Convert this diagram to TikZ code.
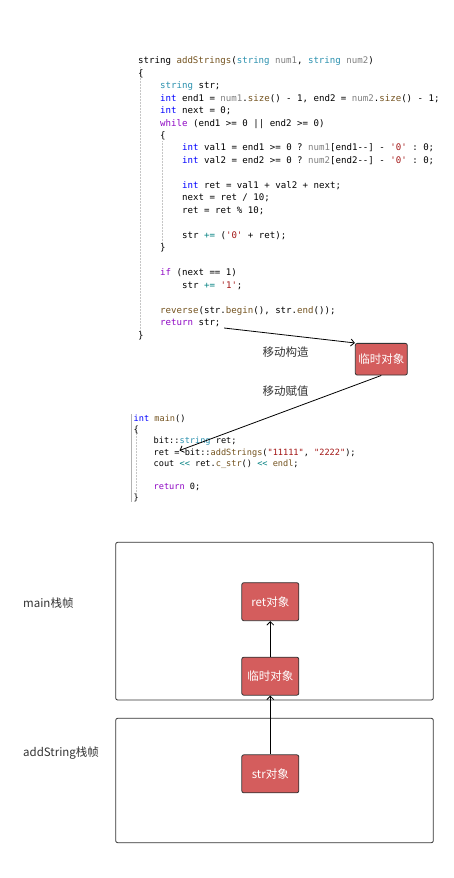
\documentclass[tikz,border=0pt]{standalone}
\usepackage{fontspec}
\setmonofont{DejaVu Sans Mono}
\newfontfamily\cjk{Noto Sans CJK SC}
\usetikzlibrary{arrows.meta}
\definecolor{ckw}{HTML}{0000FF}
\definecolor{cctl}{HTML}{8F08C4}
\definecolor{cty}{HTML}{2B91AF}
\definecolor{cfn}{HTML}{74531F}
\definecolor{cpa}{HTML}{808080}
\definecolor{cstr}{HTML}{A31515}
\definecolor{cop}{HTML}{008080}
\definecolor{boxred}{HTML}{D45D5D}
\definecolor{edge}{HTML}{333333}
\newcommand\Kw[1]{\textcolor{ckw}{#1}}
\newcommand\Ct[1]{\textcolor{cctl}{#1}}
\newcommand\Ty[1]{\textcolor{cty}{#1}}
\newcommand\Fn[1]{\textcolor{cfn}{#1}}
\newcommand\Pa[1]{\textcolor{cpa}{#1}}
\newcommand\St[1]{\textcolor{cstr}{#1}}
\newcommand\Op[1]{\textcolor{cop}{#1}}
\tikzset{
  codea/.style={anchor=base west, inner sep=0pt, font=\ttfamily\fontsize{9.1}{11}\selectfont},
  codeb/.style={anchor=base west, inner sep=0pt, font=\ttfamily\fontsize{8.6}{10}\selectfont},
  redbox/.style={draw=edge, fill=boxred, rounded corners=2pt, line width=0.8pt,
    text=white, font=\cjk\fontsize{11.5}{13}\selectfont, inner sep=0pt,
    minimum width=57pt, minimum height=38pt},
  frame/.style={draw=edge, rounded corners=2pt, line width=0.8pt},
  lbl/.style={text=edge, font=\cjk\fontsize{11.5}{13}\selectfont, inner sep=0pt},
  arr/.style={line width=0.8pt, -{Straight Barb[length=3.5pt,width=7pt]}},
  guide/.style={densely dotted, draw=gray!45, line width=0.5pt}
}
\begin{document}
\begin{tikzpicture}[x=1pt,y=-1pt]
\useasboundingbox[fill=white] (0,0) rectangle (453,878);

% indent guides
\draw[guide] (140,67) -- (140,334);
\draw[guide] (162,141) -- (162,246);
\draw[gray!60, line width=0.6pt] (131.7,414) -- (131.7,502);
\draw[guide] (136.5,428) -- (136.5,494);

% code block 1
\node[codea] (c1) at (138,63.7) {string \Fn{addStrings}(\Ty{string} \Pa{num1}, \Ty{string} \Pa{num2})};
\node[codea] (c2) at (138,76.17) {\{};
\node[codea] (c3) at (160,88.64) {\Ty{string} str;};
\node[codea] (c4) at (160,101.11) {\Kw{int} end1 = \Pa{num1}.\Fn{size}() - 1, end2 = \Pa{num2}.\Fn{size}() - 1;};
\node[codea] (c5) at (160,113.58) {\Kw{int} next = 0;};
\node[codea] (c6) at (160,126.05) {\Ct{while} (end1 >= 0 || end2 >= 0)};
\node[codea] (c7) at (160,138.52) {\{};
\node[codea] (c8) at (182,150.99) {\Kw{int} val1 = end1 >= 0 ? \Pa{num1}[end1--] - \St{'0'} : 0;};
\node[codea] (c9) at (182,163.46) {\Kw{int} val2 = end2 >= 0 ? \Pa{num2}[end2--] - \St{'0'} : 0;};
\node[codea] (c11) at (182,188.4) {\Kw{int} ret = val1 + val2 + next;};
\node[codea] (c12) at (182,200.87) {next = ret / 10;};
\node[codea] (c13) at (182,213.34) {ret = ret \% 10;};
\node[codea] (c15) at (182,238.28) {str \Op{+=} (\St{'0'} + ret);};
\node[codea] (c16) at (160,250.75) {\}};
\node[codea] (c18) at (160,275.69) {\Ct{if} (next == 1)};
\node[codea] (c19) at (182,288.16) {str \Op{+=} \St{'1'};};
\node[codea] (c21) at (160,313.1) {\Fn{reverse}(str.\Fn{begin}(), str.\Fn{end}());};
\node[codea] (lret) at (160,325.57) {\Ct{return} str;};
\node[codea] (c23) at (138,338.04) {\}};

% code block 2
\node[codeb] (m1) at (133.5,421.1) {\Kw{int} \Fn{main}()};
\node[codeb] (m2) at (133.5,432.45) {\{};
\node[codeb] (m3) at (153.5,443.8) {bit::\Ty{string} ret;};
\node[codeb] (m4) at (153.5,455.15) {ret = bit::\Fn{addStrings}(\St{"11111"}, \St{"2222"});};
\node[codeb] (m5) at (153.5,466.5) {cout \Op{<<} ret.\Fn{c\_str}() \Op{<<} \Fn{endl};};
\node[codeb] (m7) at (153.5,489.2) {\Ct{return} 0;};
\node[codeb] (m8) at (133.5,500.55) {\}};

% temporary object and move arrows
\node[redbox, minimum width=52pt, minimum height=31.7pt] (tmp1) at (381.3,359.2) {临时对象};
\node[lbl] (lb1) at (285.7,351.7) {移动构造};
\node[lbl] (lb2) at (285.7,391) {移动赋值};
\coordinate (a1) at ([xshift=3.5pt,yshift=-5pt]lret.east);
\coordinate (a2) at (179.5,450.5);
\draw[arr] (a1) -- (tmp1.north west);
\draw[arr] (tmp1.south) -- (a2);

% stack frames
\draw[frame] (115.7,542.3) rectangle (433.3,700);
\draw[frame] (115.7,718.3) rectangle (433.3,842.7);
\node[lbl, anchor=west] (mainlbl) at (23,602.7) {main栈帧};
\node[lbl, anchor=west] (addlbl) at (23,753.3) {addString栈帧};

\node[redbox] (ret) at (270.3,601.7) {ret对象};
\node[redbox] (tmp2) at (270.3,676.2) {临时对象};
\node[redbox] (str) at (270.3,773.8) {str对象};
\draw[arr] (tmp2.north) -- (ret.south);
\draw[arr] (str.north) -- (tmp2.south);
\end{tikzpicture}
\end{document}
